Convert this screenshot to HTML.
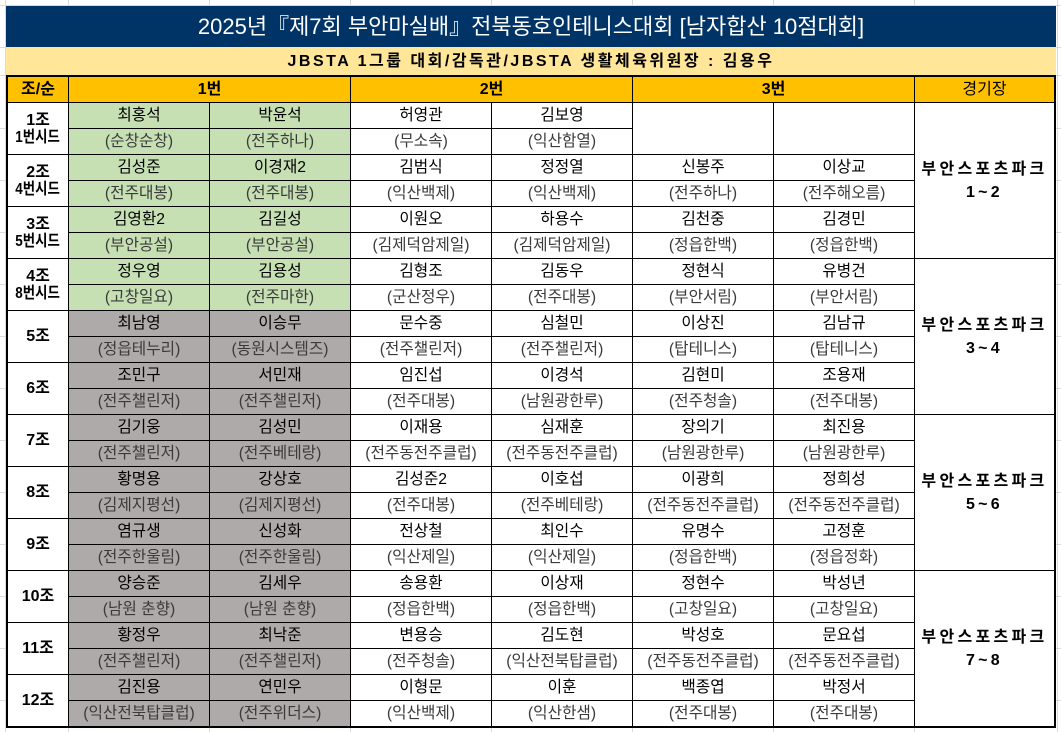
<!DOCTYPE html>
<html><head><meta charset="utf-8">
<style>
body{margin:0;width:1061px;height:732px;position:relative;background:#fff;overflow:hidden;font-family:"Liberation Sans","Noto Sans CJK KR",sans-serif;}
.vl{position:absolute;top:0;width:1px;height:732px;background:#dadada}
.hl{position:absolute;left:0;width:1061px;height:1px;background:#dadada}
.t{position:absolute;left:6px;top:6px;width:1050px;height:41px;background:#003366;color:#fff;font-size:22px;line-height:41px;text-align:center;white-space:nowrap}
.s{position:absolute;left:6px;top:47px;width:1050px;height:28px;background:#FFE699;font-weight:bold;font-size:16px;letter-spacing:2.5px;line-height:30px;text-align:center;white-space:nowrap}
.grid{position:absolute;left:6px;top:75px;padding:2px;background:#000;display:grid;grid-template-columns:60px repeat(6,140px) 139px;grid-template-rows:repeat(25,25px);gap:1px}
.grid>div{background:#fff;display:flex;align-items:center;justify-content:center;font-size:15.7px;white-space:nowrap;line-height:1;color:#000}
.grid>div.h{background:#FFC000;font-size:16px;font-weight:bold}
.grid>div.hn{background:#FFC000;font-size:16px;font-weight:normal}
.grid>div.g{grid-row:span 2;flex-direction:column;font-weight:bold;font-size:16px;line-height:17px}
.sd{display:inline-block;transform:scaleX(0.84)}
.grid>div.e{grid-row:span 2}
.grid>div.v{grid-row:span 6;flex-direction:column;font-weight:bold;font-size:16px;letter-spacing:3.3px;line-height:23px}
.grid>div.a{color:#3a3a3a}
.grid>div.gr{background:#C6E0B4}
.grid>div.gy{background:#AEAAAA}
.c2{grid-column:span 2}
</style></head><body>
<div class="vl" style="left:5px"></div>
<div class="vl" style="left:68px"></div>
<div class="vl" style="left:209px"></div>
<div class="vl" style="left:350px"></div>
<div class="vl" style="left:491px"></div>
<div class="vl" style="left:632px"></div>
<div class="vl" style="left:773px"></div>
<div class="vl" style="left:914px"></div>
<div class="vl" style="left:1057px"></div>
<div class="hl" style="top:5px"></div>
<div class="hl" style="top:47px"></div>
<div class="hl" style="top:75px"></div>
<div class="hl" style="top:128px"></div>
<div class="hl" style="top:180px"></div>
<div class="hl" style="top:232px"></div>
<div class="hl" style="top:284px"></div>
<div class="hl" style="top:336px"></div>
<div class="hl" style="top:388px"></div>
<div class="hl" style="top:440px"></div>
<div class="hl" style="top:492px"></div>
<div class="hl" style="top:544px"></div>
<div class="hl" style="top:596px"></div>
<div class="hl" style="top:648px"></div>
<div class="hl" style="top:700px"></div>

<div class="t">2025년『제7회 부안마실배』전북동호인테니스대회 [남자합산 10점대회]</div>
<div class="s">JBSTA 1그룹 대회/감독관/JBSTA 생활체육위원장 : 김용우</div>

<div class="grid">
<div class="h">조/순</div><div class="h c2">1번</div><div class="h c2">2번</div><div class="h c2">3번</div><div class="hn">경기장</div>

<div class="g"><span>1조</span><span class="sd">1번시드</span></div>
<div class="gr">최홍석</div><div class="gr">박윤석</div><div>허영관</div><div>김보영</div><div class="e"></div><div class="e"></div>
<div class="v"><span>부안스포츠파크</span><span>1~2</span></div>
<div class="gr a">(순창순창)</div><div class="gr a">(전주하나)</div><div class="a">(무소속)</div><div class="a">(익산함열)</div>

<div class="g"><span>2조</span><span class="sd">4번시드</span></div>
<div class="gr">김성준</div><div class="gr">이경재2</div><div>김범식</div><div>정정열</div><div>신봉주</div><div>이상교</div>
<div class="gr a">(전주대봉)</div><div class="gr a">(전주대봉)</div><div class="a">(익산백제)</div><div class="a">(익산백제)</div><div class="a">(전주하나)</div><div class="a">(전주해오름)</div>

<div class="g"><span>3조</span><span class="sd">5번시드</span></div>
<div class="gr">김영환2</div><div class="gr">김길성</div><div>이원오</div><div>하용수</div><div>김천중</div><div>김경민</div>
<div class="gr a">(부안공설)</div><div class="gr a">(부안공설)</div><div class="a">(김제덕암제일)</div><div class="a">(김제덕암제일)</div><div class="a">(정읍한백)</div><div class="a">(정읍한백)</div>

<div class="g"><span>4조</span><span class="sd">8번시드</span></div>
<div class="gr">정우영</div><div class="gr">김용성</div><div>김형조</div><div>김동우</div><div>정현식</div><div>유병건</div>
<div class="v"><span>부안스포츠파크</span><span>3~4</span></div>
<div class="gr a">(고창일요)</div><div class="gr a">(전주마한)</div><div class="a">(군산정우)</div><div class="a">(전주대봉)</div><div class="a">(부안서림)</div><div class="a">(부안서림)</div>

<div class="g"><span>5조</span></div>
<div class="gy">최남영</div><div class="gy">이승무</div><div>문수중</div><div>심철민</div><div>이상진</div><div>김남규</div>
<div class="gy a">(정읍테누리)</div><div class="gy a">(동원시스템즈)</div><div class="a">(전주챌린저)</div><div class="a">(전주챌린저)</div><div class="a">(탑테니스)</div><div class="a">(탑테니스)</div>

<div class="g"><span>6조</span></div>
<div class="gy">조민구</div><div class="gy">서민재</div><div>임진섭</div><div>이경석</div><div>김현미</div><div>조용재</div>
<div class="gy a">(전주챌린저)</div><div class="gy a">(전주챌린저)</div><div class="a">(전주대봉)</div><div class="a">(남원광한루)</div><div class="a">(전주청솔)</div><div class="a">(전주대봉)</div>

<div class="g"><span>7조</span></div>
<div class="gy">김기웅</div><div class="gy">김성민</div><div>이재용</div><div>심재훈</div><div>장의기</div><div>최진용</div>
<div class="v"><span>부안스포츠파크</span><span>5~6</span></div>
<div class="gy a">(전주챌린저)</div><div class="gy a">(전주베테랑)</div><div class="a">(전주동전주클럽)</div><div class="a">(전주동전주클럽)</div><div class="a">(남원광한루)</div><div class="a">(남원광한루)</div>

<div class="g"><span>8조</span></div>
<div class="gy">황명용</div><div class="gy">강상호</div><div>김성준2</div><div>이호섭</div><div>이광희</div><div>정희성</div>
<div class="gy a">(김제지평선)</div><div class="gy a">(김제지평선)</div><div class="a">(전주대봉)</div><div class="a">(전주베테랑)</div><div class="a">(전주동전주클럽)</div><div class="a">(전주동전주클럽)</div>

<div class="g"><span>9조</span></div>
<div class="gy">염규생</div><div class="gy">신성화</div><div>전상철</div><div>최인수</div><div>유명수</div><div>고정훈</div>
<div class="gy a">(전주한울림)</div><div class="gy a">(전주한울림)</div><div class="a">(익산제일)</div><div class="a">(익산제일)</div><div class="a">(정읍한백)</div><div class="a">(정읍정화)</div>

<div class="g"><span>10조</span></div>
<div class="gy">양승준</div><div class="gy">김세우</div><div>송용환</div><div>이상재</div><div>정현수</div><div>박성년</div>
<div class="v"><span>부안스포츠파크</span><span>7~8</span></div>
<div class="gy a">(남원 춘향)</div><div class="gy a">(남원 춘향)</div><div class="a">(정읍한백)</div><div class="a">(정읍한백)</div><div class="a">(고창일요)</div><div class="a">(고창일요)</div>

<div class="g"><span>11조</span></div>
<div class="gy">황정우</div><div class="gy">최낙준</div><div>변용승</div><div>김도현</div><div>박성호</div><div>문요섭</div>
<div class="gy a">(전주챌린저)</div><div class="gy a">(전주챌린저)</div><div class="a">(전주청솔)</div><div class="a">(익산전북탑클럽)</div><div class="a">(전주동전주클럽)</div><div class="a">(전주동전주클럽)</div>

<div class="g"><span>12조</span></div>
<div class="gy">김진용</div><div class="gy">연민우</div><div>이형문</div><div>이훈</div><div>백종엽</div><div>박정서</div>
<div class="gy a">(익산전북탑클럽)</div><div class="gy a">(전주위더스)</div><div class="a">(익산백제)</div><div class="a">(익산한샘)</div><div class="a">(전주대봉)</div><div class="a">(전주대봉)</div>
</div>
</body></html>
